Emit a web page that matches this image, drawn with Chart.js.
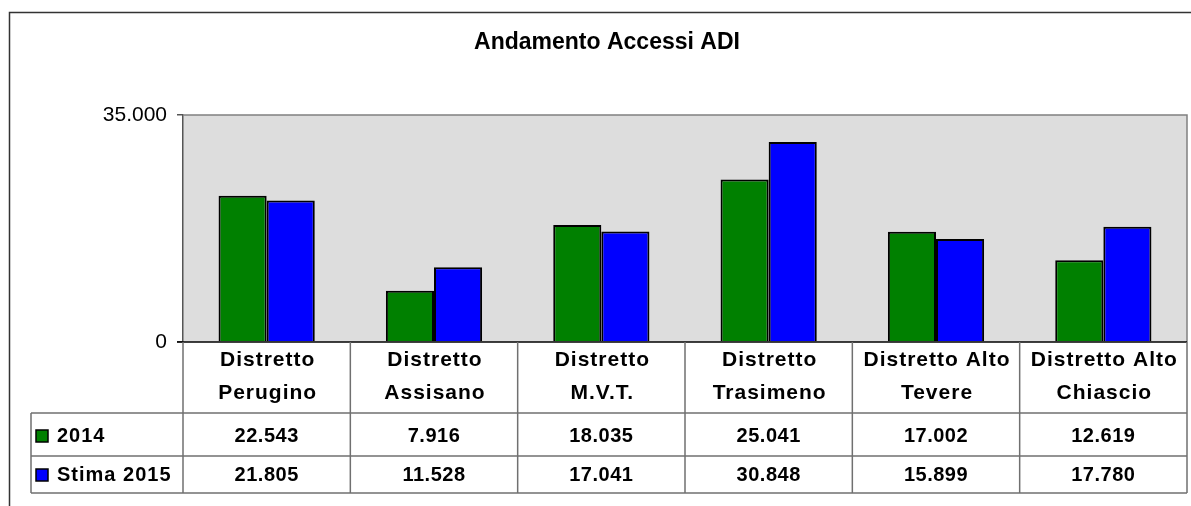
<!DOCTYPE html>
<html>
<head>
<meta charset="utf-8">
<script src="https://cdn.jsdelivr.net/npm/chart.js@4/dist/chart.umd.min.js"></script>
<style>
  html, body { margin: 0; padding: 0; background: #fff; }
  #box { width: 1191px; height: 506px; }
</style>
</head>
<body>
<div id="box"><canvas id="accessi-grafica"></canvas></div>
<script>
const titolo = "Andamento Accessi ADI";
const categorie = [
  ["Distretto", "Perugino"],
  ["Distretto", "Assisano"],
  ["Distretto", "M.V.T."],
  ["Distretto", "Trasimeno"],
  ["Distretto Alto", "Tevere"],
  ["Distretto Alto", "Chiascio"]
];
const nomiSerie = ["2014", "Stima 2015"];
const valori2014 = [22543, 7916, 18035, 25041, 17002, 12619];
const valoriStima2015 = [21805, 11528, 17041, 30848, 15899, 17780];
const tickY = [0, 35000];

const coloriSerie = ["#008000", "#0000FF"];

// formato italiano: punto come separatore delle migliaia
function formatta(n) {
  return String(Math.round(n)).replace(/\B(?=(\d{3})+(?!\d))/g, ".");
}

(function () {
  const ctx = document.getElementById("accessi-grafica");
  const serie = [valori2014, valoriStima2015];

  const tabellaPlugin = {
    id: "tabellaDati",
    beforeDraw(chart) {
      const c = chart.ctx;
      const a = chart.chartArea;
      c.save();
      c.fillStyle = "#ffffff";
      c.fillRect(0, 0, chart.width, chart.height);
      c.fillStyle = "#DDDDDD";
      c.fillRect(a.left, a.top, a.right - a.left, a.bottom - a.top);
      c.restore();
    },
    afterDraw(chart) {
      const c = chart.ctx;
      const a = chart.chartArea;
      const x = chart.scales.x;
      const colW = (a.right - a.left) / categorie.length;
      c.save();

      // cornice esterna
      c.strokeStyle = "#333333";
      c.lineWidth = 1.5;
      c.beginPath();
      c.moveTo(9.5, chart.height + 2);
      c.lineTo(9.5, 12.5);
      c.lineTo(chart.width + 2, 12.5);
      c.stroke();

      // titolo
      c.fillStyle = "#000";
      c.font = "bold 23px 'Liberation Sans', Arial, sans-serif";
      c.textAlign = "center";
      c.textBaseline = "middle";
      c.fillText(titolo, 607, 43);

      // bordo area del grafico (alto e destra)
      c.strokeStyle = "#808080";
      c.lineWidth = 1.5;
      c.beginPath();
      c.moveTo(a.left, a.top);
      c.lineTo(a.right, a.top);
      c.lineTo(a.right, a.bottom);
      c.stroke();

      // asse dello zero
      c.strokeStyle = "#000";
      c.lineWidth = 1.5;
      c.beginPath();
      c.moveTo(a.left - 6, a.bottom);
      c.lineTo(a.right, a.bottom);
      c.stroke();

      // tabella dati
      const yRiga1 = 413, yRiga2 = 456, yFine = 493, xTab = 31;
      c.strokeStyle = "#707070";
      c.lineWidth = 1.5;
      c.beginPath();
      [yRiga1, yRiga2, yFine].forEach((y) => {
        c.moveTo(xTab, y);
        c.lineTo(a.right, y);
      });
      c.moveTo(xTab, yRiga1);
      c.lineTo(xTab, yFine);
      for (let i = 0; i <= categorie.length; i++) {
        const bx = a.left + i * colW;
        c.moveTo(bx, a.bottom);
        c.lineTo(bx, yFine);
      }
      c.stroke();

      c.fillStyle = "#000";
      c.font = "bold 21px 'Liberation Sans', Arial, sans-serif";
      c.textAlign = "center";
      c.letterSpacing = "1px";
      categorie.forEach((righe, i) => {
        const cx = x.getPixelForValue(i) + 1;
        c.fillText(righe[0], cx, 360);
        c.fillText(righe[1], cx, 393);
      });

      c.font = "bold 20px 'Liberation Sans', Arial, sans-serif";
      c.letterSpacing = "0.5px";
      const yTesto = [436, 475];
      serie.forEach((valori, s) => {
        valori.forEach((v, i) => {
          c.fillText(formatta(v), x.getPixelForValue(i), yTesto[s]);
        });
      });

      // legenda nelle righe
      c.textAlign = "left";
      c.letterSpacing = "1px";
      nomiSerie.forEach((nome, s) => {
        c.fillStyle = coloriSerie[s];
        c.fillRect(36, yTesto[s] - 6, 12, 12);
        c.strokeStyle = "#000";
        c.lineWidth = 1.5;
        c.strokeRect(36, yTesto[s] - 6, 12, 12);
        c.fillStyle = "#000";
        c.fillText(nome, 57, yTesto[s]);
      });

      c.restore();
    }
  };

  new Chart(ctx, {
    type: "bar",
    data: {
      labels: categorie.map((r) => r.join(" ")),
      datasets: nomiSerie.map((nome, s) => ({
        label: nome,
        data: serie[s],
        backgroundColor: coloriSerie[s],
        borderColor: "#000000",
        borderWidth: 2,
        categoryPercentage: 0.575,
        barPercentage: 1
      }))
    },
    options: {
      responsive: true,
      maintainAspectRatio: false,
      animation: false,
      layout: { padding: { top: 115, bottom: 164, left: 0, right: 4 } },
      plugins: {
        legend: { display: false },
        title: { display: false },
        tooltip: { enabled: false }
      },
      scales: {
        x: {
          ticks: { display: false },
          grid: { display: false },
          border: { display: false },
          afterFit(scale) { scale.height = 0; }
        },
        y: {
          min: 0,
          max: 35000,
          afterBuildTicks(scale) {
            scale.ticks = tickY.map((v) => ({ value: v }));
          },
          afterFit(scale) { scale.width = 183; },
          ticks: {
            padding: 10,
            color: "#000",
            font: { family: "'Liberation Sans', Arial, sans-serif", size: 21 },
            callback: (v) => formatta(v)
          },
          grid: { drawOnChartArea: false, drawTicks: true, tickLength: 6, color: "#555555", lineWidth: 1.5 },
          border: { display: true, color: "#555555", width: 1.5 }
        }
      }
    },
    plugins: [tabellaPlugin]
  });
})();
</script>
</body>
</html>
